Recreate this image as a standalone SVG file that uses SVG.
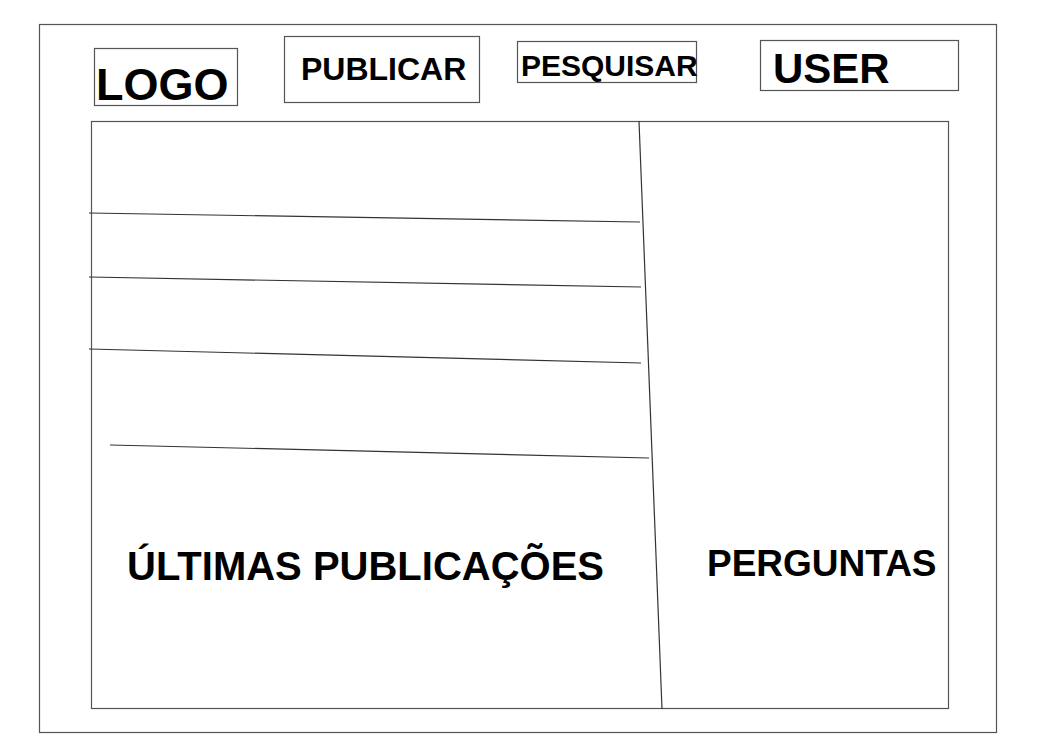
<svg xmlns="http://www.w3.org/2000/svg" width="1043" height="754" viewBox="0 0 1043 754">
<style>
.box{fill:none;stroke:#555;stroke-width:1.2}
.ln{fill:none;stroke:#333;stroke-width:1.2}
.hw{font-family:"Liberation Sans",Arial,sans-serif;font-weight:bold;fill:#000}
</style>
<rect width="1043" height="754" fill="#fff"/>
<g id="frame"><rect class="box" x="39.500" y="24.500" width="957" height="708"/></g>
<g id="logo"><rect class="box" x="94.500" y="48.500" width="143" height="57"/><text class="hw" x="96" y="100" font-size="45">LOGO</text></g>
<g id="publicar"><rect class="box" x="284.500" y="36.500" width="195" height="66"/><text class="hw" x="301" y="80" font-size="32">PUBLICAR</text></g>
<g id="pesquisar"><rect class="box" x="517.500" y="41.500" width="179" height="41"/><text class="hw" x="521" y="76" font-size="30">PESQUISAR</text></g>
<g id="user"><rect class="box" x="760.500" y="40.500" width="198" height="50"/><text class="hw" x="773" y="83" font-size="42">USER</text></g>
<g id="content"><rect class="box" x="91.500" y="121.500" width="857" height="587"/></g>
<g id="connectors">
<line class="ln" x1="639" y1="121" x2="662" y2="709"/>
<line class="ln" x1="89" y1="213" x2="640" y2="222"/>
<line class="ln" x1="89" y1="277" x2="641" y2="287"/>
<line class="ln" x1="89" y1="349" x2="641" y2="363"/>
<line class="ln" x1="110" y1="445" x2="649" y2="458"/>
</g>
<g id="ultimas"><text class="hw" x="127" y="580" font-size="40">ÚLTIMAS PUBLICAÇÕES</text></g>
<g id="perguntas"><text class="hw" x="707" y="576" font-size="37">PERGUNTAS</text></g>
</svg>
